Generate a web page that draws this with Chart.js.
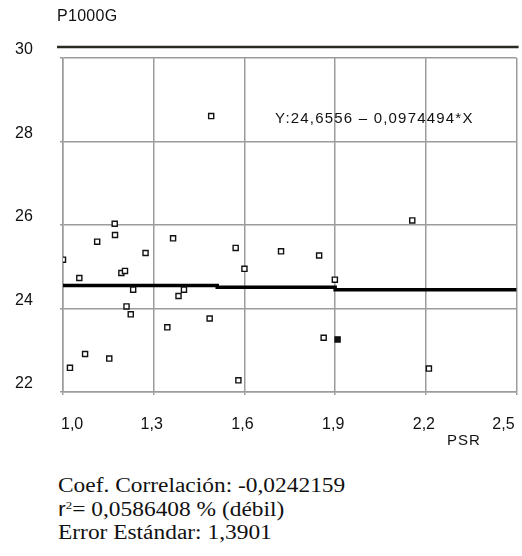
<!DOCTYPE html>
<html>
<head>
<meta charset="utf-8">
<script src="https://cdn.jsdelivr.net/npm/chart.js@4/dist/chart.umd.min.js"></script>
<style>
  html, body { margin: 0; padding: 0; background: #fff; width: 522px; height: 556px; overflow: hidden; }
  #wrap { position: absolute; left: 0; top: 0; width: 522px; height: 470px; }
  .lbl { position: absolute; font-family: "Liberation Sans", Arial, sans-serif; color: #111; white-space: nowrap; }
  #title { left: 57px; top: 7px; font-size: 16px; letter-spacing: 0.3px; }
  #xtitle { left: 447px; top: 431px; font-size: 15px; letter-spacing: 1px; }
  #eq { left: 275px; top: 109px; font-size: 15px; letter-spacing: 1.2px; }
  #stats { position: absolute; left: 58px; top: 474px; font-family: "Liberation Serif", "Times New Roman", serif; font-size: 20px; line-height: 23.5px; color: #111; transform: scaleX(1.17); transform-origin: left top; white-space: nowrap; }
  #stats sup { font-size: 11px; vertical-align: 7px; line-height: 0; }
  #stats .r { font-family: "Liberation Sans", Arial, sans-serif; }
</style>
</head>
<body>
<div id="wrap"><canvas id="c" width="522" height="470"></canvas></div>
<div class="lbl" id="title">P1000G</div>
<div class="lbl" id="eq">Y:24,6556 – 0,0974494*X</div>
<div class="lbl" id="xtitle">PSR</div>
<div id="stats">
  <div>Coef. Correlación: -0,0242159</div>
  <div><span class="r">r</span><sup>2</sup>= 0,0586408 % (débil)</div>
  <div>Error Estándar: 1,3901</div>
</div>
<script>
// Data
const psr = [1.00,1.054,1.113,1.171,1.172,1.193,1.205,1.273,1.232,1.21,1.224,1.023,1.073,1.153,1.364,1.382,1.40,1.345,1.485,1.49,1.571,1.60,1.58,1.721,1.847,1.899,1.862,1.908,2.155,2.21];
const p1000g = [25.17,24.73,25.60,26.03,25.76,24.85,24.90,25.33,24.45,24.05,23.86,22.58,22.91,22.80,25.68,24.30,24.45,23.55,23.76,28.61,25.45,24.95,22.28,25.37,25.27,24.69,23.30,23.26,26.11,22.56];
const fitX = [1.0, 1.51, 1.51, 1.9, 1.9, 2.5];
const fitY = [24.55, 24.55, 24.51, 24.51, 24.45, 24.45];
const xTicks = [1.0, 1.3, 1.6, 1.9, 2.2, 2.5];
const yTicks = [22, 24, 26, 28, 30];

const points = psr.map((x, i) => ({ x: x, y: p1000g[i] }));
const fitLine = fitX.map((x, i) => ({ x: x, y: fitY[i] }));
const filledIdx = 27;

const topRule = {
  id: 'topRule',
  afterDraw(chart) {
    const ctx = chart.ctx, a = chart.chartArea;
    ctx.save();
    ctx.strokeStyle = '#2a2a22';
    ctx.lineWidth = 2.5;
    ctx.beginPath();
    ctx.moveTo(a.left - 6, a.top - 11);
    ctx.lineTo(a.right + 2, a.top - 11);
    ctx.stroke();
    ctx.restore();
  }
};

const gridColor = '#9c9c9c';
new Chart(document.getElementById('c'), {
  type: 'scatter',
  data: {
    datasets: [
      {
        data: points,
        pointStyle: 'rect',
        pointRadius: 3.6,
        pointBorderWidth: 1.4,
        pointBorderColor: '#111',
        pointBackgroundColor: points.map((p, i) => i === filledIdx ? '#111' : '#fff'),
        showLine: false,
        order: 1
      },
      {
        data: fitLine,
        showLine: true,
        borderColor: '#000',
        borderWidth: 3.5,
        pointRadius: 0,
        fill: false,
        order: 2
      }
    ]
  },
  options: {
    responsive: false,
    animation: false,
    devicePixelRatio: 1,
    layout: { padding: { top: 58, left: 15, right: 4, bottom: 0 } },
    plugins: { legend: { display: false }, tooltip: { enabled: false }, title: { display: false } },
    scales: {
      x: {
        type: 'linear',
        min: 1.0, max: 2.5,
        afterBuildTicks(s) { s.ticks = xTicks.map(v => ({ value: v })); },
        afterFit(s) { s.height = 78; s.paddingLeft = 0; s.paddingRight = 0; },
        grid: { color: gridColor, lineWidth: 1.5, tickLength: 3, drawTicks: true },
        border: { display: true, color: gridColor, width: 1.5 },
        ticks: {
          color: '#111',
          padding: 20,
          align: 'inner',
          labelOffset: -2,
          maxRotation: 0,
          font: { family: 'Liberation Sans', size: 16 },
          callback: v => Number(v).toFixed(1).replace('.', ',')
        }
      },
      y: {
        type: 'linear',
        min: 22, max: 30,
        afterBuildTicks(s) { s.ticks = yTicks.map(v => ({ value: v })); },
        afterFit(s) { s.width = 48; },
        grid: { color: gridColor, lineWidth: 1.5, tickLength: 3, drawTicks: true },
        border: { display: true, color: gridColor, width: 1.5 },
        ticks: {
          color: '#111',
          crossAlign: 'far',
          labelOffset: -8,
          font: { family: 'Liberation Sans', size: 16 },
          callback: v => String(v)
        }
      }
    }
  },
  plugins: [topRule]
});
</script>
</body>
</html>
